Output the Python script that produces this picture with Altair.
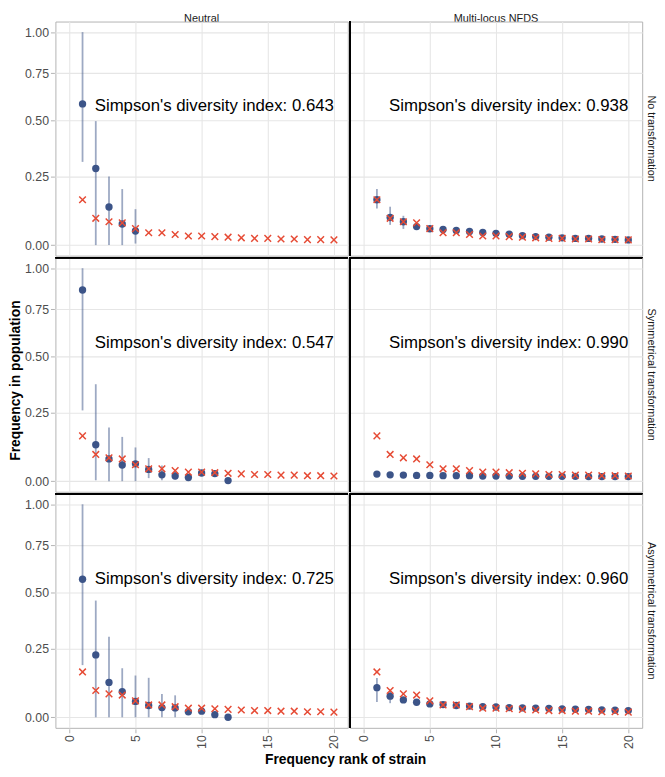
import math
import altair as alt
import pandas as pd

rows_order = ["No transformation", "Symmetrical transformation", "Asymmetrical transformation"]
cols_order = ["Neutral", "Multi-locus NFDS"]
ranks = list(range(1, 21))
y_title = "Frequency in population"
x_title = "Frequency rank of strain"

# observed frequencies (red crosses), same in every panel
observed = [0.159, 0.091, 0.079, 0.075, 0.055, 0.041, 0.041, 0.035, 0.030, 0.030,
            0.028, 0.026, 0.024, 0.022, 0.022, 0.020, 0.020, 0.018, 0.018, 0.017]

# No transformation
nt_neu_mean = [0.583, 0.283, 0.132, 0.071, 0.047]
nt_neu_lo = [0.311, 0.0, 0.0, 0.0, 0.005]
nt_neu_hi = [1.0, 0.497, 0.25, 0.20, 0.124]
nt_nfds_mean = [0.159, 0.094, 0.079, 0.062, 0.0545, 0.052, 0.049, 0.0456, 0.042, 0.039,
                0.036, 0.031, 0.028, 0.026, 0.024, 0.022, 0.022, 0.020, 0.019, 0.017]
nt_nfds_lo = [0.126, 0.068, 0.054, 0.056, 0.050, 0.048, 0.045, 0.042, 0.039, 0.036,
              0.033, 0.028, 0.025, 0.023, 0.021, 0.019, 0.019, 0.017, 0.016, 0.014]
nt_nfds_hi = [0.200, 0.133, 0.100, 0.069, 0.060, 0.057, 0.053, 0.050, 0.046, 0.043,
              0.040, 0.035, 0.031, 0.029, 0.027, 0.025, 0.025, 0.023, 0.022, 0.020]

# Symmetrical transformation
sy_neu_mean = [0.863, 0.126, 0.075, 0.054, 0.058, 0.039, 0.021, 0.017, 0.012, 0.027, 0.025, 0.002]
sy_neu_lo = [0.259, 0.003, 0.0, 0.0, 0.0, 0.010, 0.003, 0.006, 0.005, 0.020, 0.019, 0.0]
sy_neu_hi = [1.0, 0.371, 0.191, 0.155, 0.116, 0.078, 0.052, 0.030, 0.020, 0.034, 0.032, 0.004]
sy_nfds_mean = [0.0235, 0.021, 0.020, 0.019, 0.019, 0.018, 0.018, 0.018, 0.017, 0.017,
                0.017, 0.016, 0.016, 0.016, 0.016, 0.016, 0.015, 0.015, 0.015, 0.015]
sy_nfds_lo = [0.020, 0.018, 0.017, 0.016, 0.016, 0.015, 0.015, 0.015, 0.014, 0.014,
              0.014, 0.013, 0.013, 0.013, 0.013, 0.013, 0.012, 0.012, 0.012, 0.012]
sy_nfds_hi = [0.027, 0.024, 0.023, 0.022, 0.022, 0.021, 0.021, 0.021, 0.020, 0.020,
              0.020, 0.019, 0.019, 0.019, 0.019, 0.019, 0.018, 0.018, 0.018, 0.018]

# Asymmetrical transformation
as_neu_mean = [0.567, 0.225, 0.120, 0.087, 0.053, 0.039, 0.032, 0.031, 0.018, 0.020, 0.0085, 0.0]
as_neu_lo = [0.185, 0.0, 0.0, 0.0, 0.0, 0.0, 0.0, 0.0, 0.010, 0.012, 0.002, 0.0]
as_neu_hi = [1.0, 0.462, 0.300, 0.173, 0.1455, 0.137, 0.079, 0.074, 0.028, 0.030, 0.015, 0.002]
as_nfds_mean = [0.101, 0.071, 0.058, 0.050, 0.0445, 0.042, 0.039, 0.037, 0.035, 0.034,
                0.032, 0.031, 0.030, 0.029, 0.0275, 0.0265, 0.0255, 0.0245, 0.0235, 0.022]
as_nfds_lo = [0.051, 0.047, 0.052, 0.045, 0.040, 0.038, 0.035, 0.033, 0.031, 0.030,
              0.028, 0.027, 0.026, 0.025, 0.024, 0.023, 0.022, 0.021, 0.020, 0.019]
as_nfds_hi = [0.136, 0.092, 0.064, 0.055, 0.049, 0.046, 0.043, 0.041, 0.039, 0.038,
              0.036, 0.035, 0.034, 0.033, 0.031, 0.030, 0.029, 0.028, 0.027, 0.025]

simpson = {
    ("No transformation", "Neutral"): "0.643",
    ("No transformation", "Multi-locus NFDS"): "0.938",
    ("Symmetrical transformation", "Neutral"): "0.547",
    ("Symmetrical transformation", "Multi-locus NFDS"): "0.990",
    ("Asymmetrical transformation", "Neutral"): "0.725",
    ("Asymmetrical transformation", "Multi-locus NFDS"): "0.960",
}

panels = {
    ("No transformation", "Neutral"): (nt_neu_mean, nt_neu_lo, nt_neu_hi),
    ("No transformation", "Multi-locus NFDS"): (nt_nfds_mean, nt_nfds_lo, nt_nfds_hi),
    ("Symmetrical transformation", "Neutral"): (sy_neu_mean, sy_neu_lo, sy_neu_hi),
    ("Symmetrical transformation", "Multi-locus NFDS"): (sy_nfds_mean, sy_nfds_lo, sy_nfds_hi),
    ("Asymmetrical transformation", "Neutral"): (as_neu_mean, as_neu_lo, as_neu_hi),
    ("Asymmetrical transformation", "Multi-locus NFDS"): (as_nfds_mean, as_nfds_lo, as_nfds_hi),
}

records = []
for (r, c), (m, lo, hi) in panels.items():
    for i, k in enumerate(ranks):
        rec = {"row": r, "col": c, "rank": k, "obs": observed[i],
               "mean": m[i] if i < len(m) else None,
               "lo": lo[i] if i < len(lo) else None,
               "hi": hi[i] if i < len(hi) else None,
               "label": ("Simpson's diversity index: " + simpson[(r, c)]) if k == 20 else None}
        records.append(rec)
df = pd.DataFrame(records)

W, H = 296, 237
HEAD = 8
BLUE = "#3C5488"
RED = "#E64B35"
FONT = "Liberation Sans"
GRID = "#e6e6e6"
TICK = "#b3b3b3"

y_major = [0, 0.25, 0.5, 0.75, 1.0]
y_minor = [math.expm1((math.log1p(a) + math.log1p(b)) / 2) for a, b in zip(y_major[:-1], y_major[1:])]
x_major = [0, 5, 10, 15, 20]
x_minor = [2.5, 7.5, 12.5, 17.5]

y_major_expr = "indexof([0,0.25,0.5,0.75,1], datum.value) >= 0"
x_major_expr = "datum.value % 5 == 0"

xscale = alt.Scale(domain=[-1.05, 21.05], nice=False, zero=False)
yscale = alt.Scale(type="symlog", constant=1, domain=[-0.035, 1.07], nice=False, zero=False)

xaxis = alt.Axis(values=x_major + x_minor, title=None, labelAngle=270,
                 labelExpr="datum.value % 5 == 0 ? datum.label : ''",
                 labelAlign="right", labelBaseline="middle", labelPadding=2,
                 ticks=True, tickSize=4, tickColor=TICK,
                 tickOpacity={"condition": {"test": x_major_expr, "value": 1}, "value": 0},
                 domain=False, gridColor=GRID,
                 gridWidth={"condition": {"test": x_major_expr, "value": 1.1}, "value": 0.6})
yaxis = alt.Axis(values=y_major + y_minor, title=None,
                 labelExpr="indexof([0,0.25,0.5,0.75,1], datum.value) >= 0 ? format(datum.value, '.2f') : ''",
                 labelPadding=2, ticks=True, tickSize=4, tickColor=TICK,
                 tickOpacity={"condition": {"test": y_major_expr, "value": 1}, "value": 0},
                 domain=False, gridColor=GRID,
                 gridWidth={"condition": {"test": y_major_expr, "value": 1.1}, "value": 0.6})

base = alt.Chart(df)

errbars = base.transform_filter("isValid(datum.mean)").mark_rule(
    color=BLUE, opacity=0.5, strokeWidth=1.8
).encode(
    x=alt.X("rank:Q", scale=xscale, axis=xaxis),
    y=alt.Y("lo:Q", scale=yscale, axis=yaxis),
    y2="hi:Q",
)

points = base.transform_filter("isValid(datum.mean)").mark_point(
    filled=True, color=BLUE, size=55, opacity=1
).encode(
    x=alt.X("rank:Q", scale=xscale),
    y=alt.Y("mean:Q", scale=yscale),
)

crosses = base.mark_point(
    shape="M-1,-1L1,1M-1,1L1,-1", filled=False, color=RED, strokeWidth=1.5, size=45, opacity=1
).encode(
    x=alt.X("rank:Q", scale=xscale),
    y=alt.Y("obs:Q", scale=yscale),
)

labels = base.transform_filter("isValid(datum.label)").mark_text(
    align="right", baseline="middle", fontSize=17, font=FONT, color="black"
).encode(
    x=alt.datum(20),
    y=alt.datum(0.57),
    text="label:N",
)

hsep = base.transform_filter(alt.datum.row != "No transformation").mark_rule(
    color="black", strokeWidth=1
).encode(x=alt.value(0), x2=alt.value(W), y=alt.value(0))

vsep = base.transform_filter(alt.datum.col == "Multi-locus NFDS").mark_rule(
    color="black", strokeWidth=1
).encode(x=alt.value(0), y=alt.value(0), y2=alt.value(H))

layered = alt.layer(errbars, points, crosses, labels, hsep, vsep).properties(width=W, height=H)

grid = layered.facet(
    row=alt.Row("row:N", sort=rows_order,
                header=alt.Header(title=None,
                                  labelOrient="right", labelAngle=90, labelFont=FONT,
                                  labelFontSize=11, labelColor="#1a1a1a", labelPadding=3)),
    column=alt.Column("col:N", sort=cols_order,
                      header=alt.Header(title=None,
                                        labelOrient="top", labelFont=FONT, labelFontSize=11,
                                        labelColor="#1a1a1a", labelPadding=-3)),
    spacing=0,
)

ytitle = alt.Chart(pd.DataFrame({"t": [y_title]})).mark_text(
    angle=270, font=FONT, fontSize=14, fontWeight="bold", color="black",
    align="center", baseline="middle"
).encode(
    text="t:N", x=alt.value(7), y=alt.value(HEAD + 1.5 * H)
).properties(width=14, height=3 * H + HEAD,
             view=alt.ViewBackground(stroke="transparent"))

chart = alt.hconcat(ytitle, grid, spacing=0).configure_view(
    stroke="#b3b3b3", strokeWidth=1
).configure_axis(
    labelFont=FONT, labelFontSize=12.5, labelColor="#4d4d4d"
).properties(
    title=alt.TitleParams(x_title, orient="bottom", anchor="middle",
                          font=FONT, fontSize=14, fontWeight="bold", color="black",
                          offset=5, dx=13),
    padding={"left": 0, "top": 0, "right": 0, "bottom": 0},
)

chart.save("out.html", embed_options={"renderer": "svg", "actions": False})
